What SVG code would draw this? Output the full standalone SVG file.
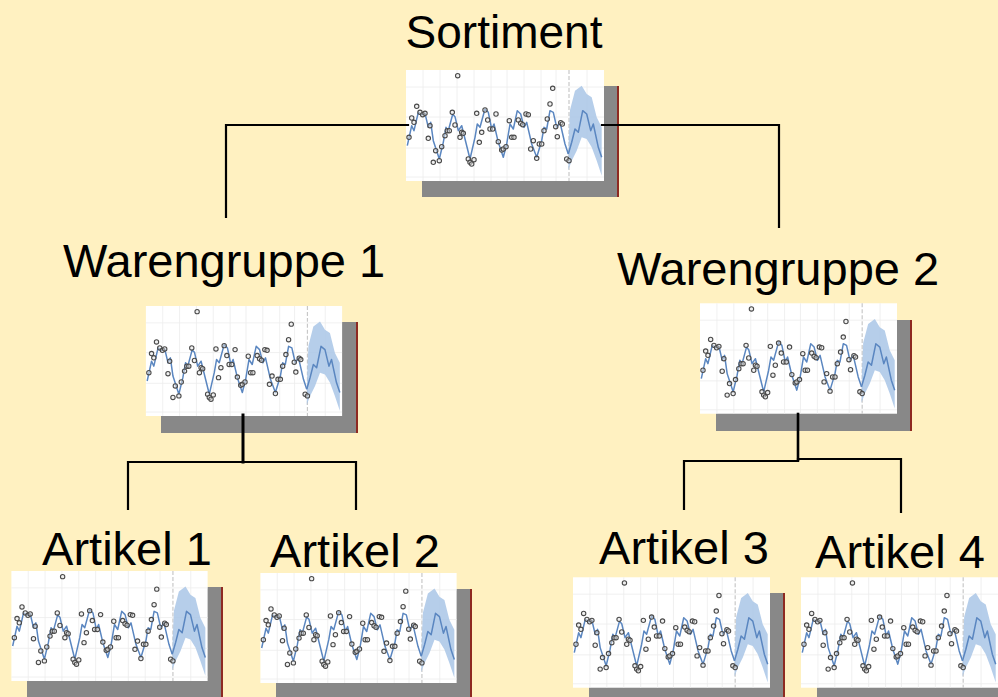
<svg xmlns="http://www.w3.org/2000/svg" xmlns:xlink="http://www.w3.org/1999/xlink" width="998" height="697" viewBox="0 0 998 697">
  <style>
    .label { font-family: "Liberation Sans", Arial, sans-serif; font-size: 47px; fill: #000; text-anchor: middle; }
    .shadow { fill: #888888; }
    .edge { fill: #8e2a22; }
    .conn { fill: none; stroke: #000; stroke-width: 2.2; stroke-linecap: square; stroke-linejoin: miter; }
    .grid { stroke: #ececec; stroke-width: 0.8; }
    .fit { fill: none; stroke: #5a86c0; stroke-width: 1.5; stroke-linejoin: round; }
    .pt circle { fill: #e4e4e4; fill-opacity: 0.5; stroke: #4a4a4a; stroke-width: 1.1; }
  </style>
  <defs>
    <!-- small time-series chart: history with fitted line, forecast with band -->
    <symbol id="chart" viewBox="0 0 198 111">
      <rect width="198" height="111" fill="#fff"/>
      <g class="grid">
        <line x1="17" y1="0" x2="17" y2="111"/>
        <line x1="34" y1="0" x2="34" y2="111"/>
        <line x1="51" y1="0" x2="51" y2="111"/>
        <line x1="68" y1="0" x2="68" y2="111"/>
        <line x1="85" y1="0" x2="85" y2="111"/>
        <line x1="101" y1="0" x2="101" y2="111"/>
        <line x1="118" y1="0" x2="118" y2="111"/>
        <line x1="135" y1="0" x2="135" y2="111"/>
        <line x1="150" y1="0" x2="150" y2="111"/>
        <line x1="181" y1="0" x2="181" y2="111"/>
        <line x1="0" y1="17" x2="198" y2="17"/>
        <line x1="0" y1="47" x2="198" y2="47"/>
        <line x1="0" y1="78" x2="198" y2="78"/>
        <line x1="0" y1="107" x2="198" y2="107"/>
      </g>
      <line x1="163" y1="0" x2="163" y2="111" stroke="#c8c8c8" stroke-width="1.2" stroke-dasharray="4 2"/>
      <path d="M162.7 70 L164 40 L169 20.7 L175.7 15.7 L180.7 24 L185.7 27.3 L190.7 47.3 L195.7 57.3 L195.7 105.7 L190.7 90.7 L185.7 77.3 L180.7 69 L175.7 67.3 L170.7 80.7 L165.7 90.7 L162.3 100 Z" fill="#a9c5e6" opacity="0.85"/>
      <path class="fit" d="M1.3 75.7 L5.7 55.7 L8 60.7 L12.3 42.3 L15.7 44.7 L19 43.3 L22.3 57.3 L24.7 52.3 L27.3 70.7 L33.3 89 L37.3 72.3 L40 57.3 L42.3 60.7 L46.7 44.3 L49 46.7 L52.3 60.7 L55.7 55.7 L64 89 L69 67.3 L71.3 54 L74 57.3 L79 39 L82.3 42.3 L85.7 59 L88 54 L92.3 72.3 L97.3 87.3 L100.7 74 L104 54 L107.3 59 L111.3 40.7 L114.7 44 L118 57.3 L120.7 52.3 L125.7 74 L130.7 87.3 L135.7 70.7 L138 57.3 L140.7 59 L144 40.7 L147.3 42.3 L150.7 57.3 L154 52.3 L159 74 L162.3 84"/>
      <path class="fit" stroke="#3f6aa5" d="M162.3 84 L165.7 72.3 L169 59 L172.3 62.3 L176.7 40.7 L180.7 44 L184.7 60.7 L187.3 54 L192.3 77.3 L195.7 87.3"/>
      <g class="pt">
        <circle cx="51.7" cy="5.7" r="2.2"/><circle cx="146.7" cy="18.3" r="2.2"/><circle cx="144" cy="34" r="2.2"/>
        <circle cx="10.7" cy="36.3" r="2.2"/><circle cx="5.7" cy="48" r="2.2"/><circle cx="8" cy="52.3" r="2.2"/>
        <circle cx="3" cy="67.3" r="2.2"/><circle cx="14" cy="42.3" r="2.2"/><circle cx="16.7" cy="44.7" r="2.2"/>
        <circle cx="19" cy="43.3" r="2.2"/><circle cx="24" cy="55.7" r="2.2"/><circle cx="22.3" cy="68.3" r="2.2"/>
        <circle cx="29.7" cy="80.7" r="2.2"/><circle cx="27.3" cy="92.3" r="2.2"/><circle cx="33.3" cy="90.7" r="2.2"/>
        <circle cx="35.7" cy="76.7" r="2.2"/><circle cx="39" cy="65.7" r="2.2"/><circle cx="41.3" cy="60.7" r="2.2"/>
        <circle cx="43.3" cy="60.7" r="2.2"/><circle cx="46.3" cy="42.3" r="2.2"/><circle cx="49" cy="55" r="2.2"/>
        <circle cx="54" cy="67.3" r="2.2"/><circle cx="55.7" cy="62.3" r="2.2"/><circle cx="57.3" cy="63.3" r="2.2"/>
        <circle cx="62.3" cy="89" r="2.2"/><circle cx="64" cy="92.3" r="2.2"/><circle cx="65.7" cy="94" r="2.2"/>
        <circle cx="68" cy="89.7" r="2.2"/><circle cx="70.7" cy="43.3" r="2.2"/><circle cx="73.3" cy="72.3" r="2.2"/>
        <circle cx="75.7" cy="62.3" r="2.2"/><circle cx="79" cy="40" r="2.2"/><circle cx="81.7" cy="50" r="2.2"/>
        <circle cx="84" cy="59" r="2.2"/><circle cx="86.7" cy="59" r="2.2"/><circle cx="90" cy="44" r="2.2"/>
        <circle cx="92.3" cy="71.7" r="2.2"/><circle cx="95.7" cy="80" r="2.2"/><circle cx="97.3" cy="79" r="2.2"/>
        <circle cx="100" cy="76.7" r="2.2"/><circle cx="103.3" cy="50.7" r="2.2"/><circle cx="105.7" cy="67.3" r="2.2"/>
        <circle cx="108" cy="67.3" r="2.2"/><circle cx="112.3" cy="50" r="2.2"/><circle cx="114.7" cy="53.3" r="2.2"/>
        <circle cx="116.7" cy="54.7" r="2.2"/><circle cx="120" cy="44" r="2.2"/><circle cx="122.3" cy="44.7" r="2.2"/>
        <circle cx="127.3" cy="70.7" r="2.2"/><circle cx="124.7" cy="79" r="2.2"/><circle cx="130.7" cy="88.3" r="2.2"/>
        <circle cx="133.3" cy="74" r="2.2"/><circle cx="135.7" cy="74" r="2.2"/><circle cx="138" cy="60.7" r="2.2"/>
        <circle cx="141.3" cy="49" r="2.2"/><circle cx="149.7" cy="56.7" r="2.2"/><circle cx="151.3" cy="66.7" r="2.2"/>
        <circle cx="154.7" cy="52.7" r="2.2"/><circle cx="156.3" cy="54" r="2.2"/><circle cx="160.7" cy="89" r="2.2"/>
        <circle cx="163" cy="90.7" r="2.2"/>
      </g>
    </symbol>
  </defs>

  <rect width="998" height="697" fill="#fff1c1"/>

  <g id="sortiment">
    <rect class="shadow" x="422" y="86" width="196" height="111"/>
    <rect class="edge" x="617" y="86" width="2" height="111"/>
    <use xlink:href="#chart" href="#chart" x="406" y="70" width="198" height="111"/>
    <text class="label" x="504" y="48" style="font-size:46px">Sortiment</text>
  </g>

  <g id="warengruppe-1">
    <rect class="shadow" x="161" y="322" width="196" height="111"/>
    <rect class="edge" x="356" y="322" width="2" height="111"/>
    <use xlink:href="#chart" href="#chart" x="145" y="306" width="198" height="110"/>
    <text class="label" x="224" y="277">Warengruppe 1</text>
  </g>

  <g id="warengruppe-2">
    <rect class="shadow" x="716" y="320" width="195" height="111"/>
    <rect class="edge" x="910" y="320" width="2" height="111"/>
    <use xlink:href="#chart" href="#chart" x="700" y="303" width="197" height="111"/>
    <text class="label" x="778" y="285">Warengruppe 2</text>
  </g>

  <g id="artikel-1">
    <rect class="shadow" x="27" y="587" width="195" height="111"/>
    <rect class="edge" x="221" y="587" width="2" height="111"/>
    <use xlink:href="#chart" href="#chart" x="11" y="571" width="197" height="110"/>
    <text class="label" x="127" y="565">Artikel 1</text>
  </g>

  <g id="artikel-2">
    <rect class="shadow" x="276" y="589" width="195" height="111"/>
    <rect class="edge" x="470" y="589" width="2" height="111"/>
    <use xlink:href="#chart" href="#chart" x="260" y="573" width="197" height="110"/>
    <text class="label" x="355" y="567">Artikel 2</text>
  </g>

  <g id="artikel-3">
    <rect class="shadow" x="589" y="593" width="195" height="111"/>
    <rect class="edge" x="783" y="593" width="2" height="111"/>
    <use xlink:href="#chart" href="#chart" x="573" y="577" width="197" height="111"/>
    <text class="label" x="684" y="564">Artikel 3</text>
  </g>

  <g id="artikel-4">
    <rect class="shadow" x="817" y="593" width="195" height="111"/>
    <use xlink:href="#chart" href="#chart" x="801" y="577" width="197" height="111"/>
    <text class="label" x="900" y="568">Artikel 4</text>
  </g>

  <g id="connectors" class="conn">
    <polyline points="408,125 226,125 226,217"/>
    <polyline points="602,125 779,125 779,227"/>
    <line x1="243" y1="415" x2="243" y2="462" style="stroke-width:3"/>
    <polyline points="128,509 128,462 356,462 356,509"/>
    <line x1="798" y1="414" x2="798" y2="460" style="stroke-width:2.6"/>
    <polyline points="684,509 684,461 798,461"/>
    <polyline points="798,459 901,459 901,512"/>
  </g>
</svg>
